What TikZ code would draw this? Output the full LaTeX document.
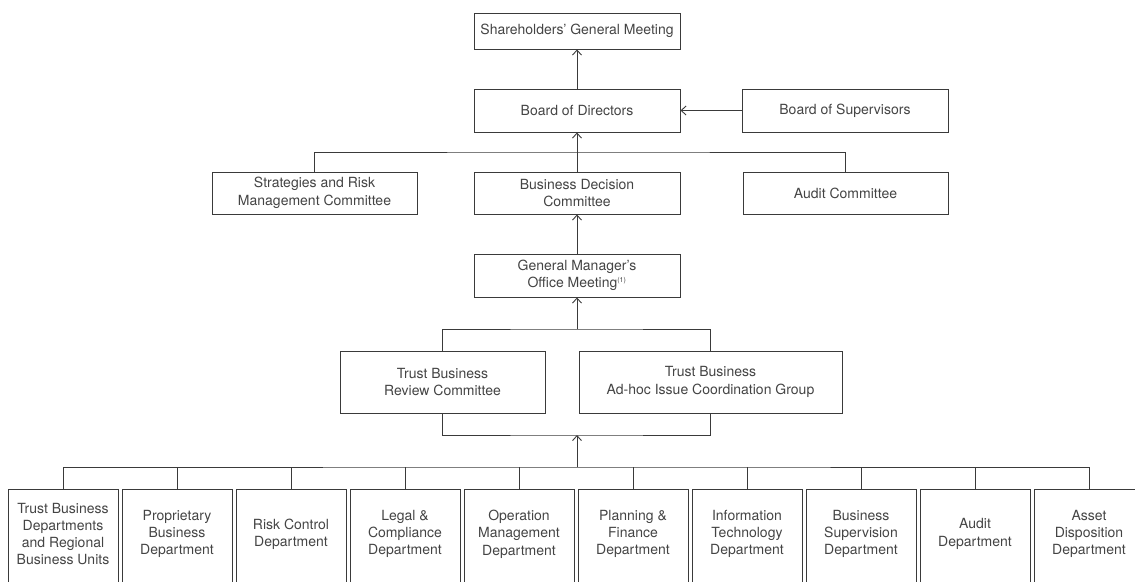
\documentclass[tikz,border=0pt]{standalone}
\usepackage{fontspec}
\setmainfont{TeX Gyre Heros}
\usetikzlibrary{arrows.meta}
\definecolor{inkline}{HTML}{3A3A3A}
\definecolor{inktext}{HTML}{444444}
\tikzset{
  orgbox/.style={draw=inkline, line width=0.9pt, fill=white, inner sep=0pt,
    align=center, text=inktext, font=\fontsize{14}{17.5}\selectfont},
  deptbox/.style={draw=inkline, line width=0.9pt, inner sep=0pt,
    minimum width=110pt, minimum height=110pt, anchor=north},
  depttext/.style={align=center, text=inktext, inner sep=0pt,
    font=\fontsize{14}{17.3}\selectfont},
  link/.style={draw=inkline, line width=0.9pt},
  up/.style={link, -{Straight Barb[length=5pt,width=9pt,line width=0.9pt]}}
}
\begin{document}
\begin{tikzpicture}[x=1pt,y=-1pt]
\useasboundingbox (0,0) rectangle (1135,581);
\clip (0,0) rectangle (1135,581);

% governance tier
\node[orgbox, minimum width=206pt, minimum height=36pt] (sgm) at (577,31) {Shareholders’ General Meeting};
\node[orgbox, minimum width=206pt, minimum height=43pt] (bod) at (577,110.5) {Board of Directors};
\node[orgbox, minimum width=206pt, minimum height=43pt] (bos) at (845,110.5) {Board of Supervisors};

% committees
\node[orgbox, minimum width=205pt, minimum height=42pt] (srmc) at (314.5,193) {Strategies and Risk\\Management Committee};
\node[orgbox, minimum width=206pt, minimum height=42pt] (bdc) at (577,193) {Business Decision\\Committee};
\node[orgbox, minimum width=205pt, minimum height=42pt] (ac) at (845.5,193) {Audit Committee};

\node[orgbox, minimum width=206pt, minimum height=43pt] (gmo) at (577,275.5) {General Manager’s\\Office Meeting\textsuperscript{\fontsize{7}{7}\selectfont(1)}};

\node[orgbox, minimum width=205pt, minimum height=62pt] (tbrc) at (442.5,382) {Trust Business\\Review Committee};
\node[orgbox, minimum width=263pt, minimum height=62pt] (adhoc) at (710.5,382) {Trust Business\\Ad-hoc Issue Coordination Group};

% junction points
\coordinate (j1) at (577,152);
\coordinate (j2) at (577,329);
\coordinate (j3) at (577,435);
\coordinate (j4) at (577,467);

% departments
\foreach \i/\txt in {
  0/{Trust Business\\Departments\\and Regional\\Business Units},
  1/{Proprietary\\Business\\Department},
  2/{Risk Control\\Department},
  3/{Legal \&\\Compliance\\Department},
  4/{Operation\\Management\\Department},
  5/{Planning \&\\Finance\\Department},
  6/{Information\\Technology\\Department},
  7/{Business\\Supervision\\Department},
  8/{Audit\\Department},
  9/{Asset\\Disposition\\Department}}{
  \node[deptbox] (d\i) at (63+114*\i,489) {};
  \node[depttext] (t\i) at (63+114*\i,534) {\txt};
}

% connectors
\draw[up] (bod.north) -- (sgm.south);
\draw[up] (bos.west) -- (bod.east);
\draw[up] (bdc.north) -- (bod.south);
\draw[link] (srmc.north) |- (j1) -| (ac.north);
\draw[up] (gmo.north) -- (bdc.south);
\draw[up] (j2) -- (gmo.south);
\draw[link] (tbrc.north) |- (j2) -| (adhoc.north);
\draw[link] (tbrc.south) |- (j3) -| (adhoc.south);
\draw[up] (j4) -- (j3);
\draw[link] (d0.north) |- (j4) -| (d9.north);
\foreach \i in {1,...,8}{
  \draw[link] (d\i.north) -- (d\i.north |- j4);
}
\end{tikzpicture}
\end{document}
